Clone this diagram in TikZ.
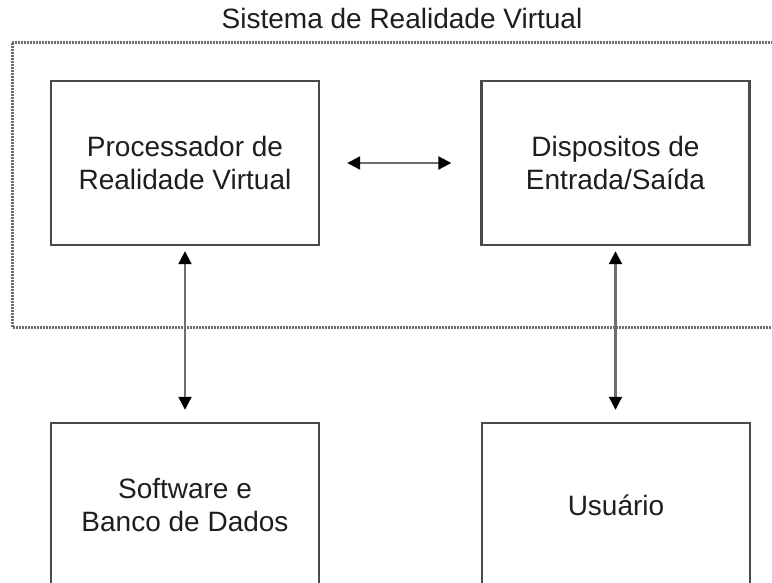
\documentclass[tikz,border=0pt]{standalone}
\usepackage{fontspec}
\setmainfont{Liberation Sans}
\usetikzlibrary{arrows.meta}
\definecolor{boxline}{HTML}{4A4A4A}
\definecolor{framegray}{HTML}{6E6E6E}
\definecolor{textgray}{HTML}{1E1E1E}
\tikzset{
  block/.style={draw=boxline, line width=2.4pt, minimum width=268pt, minimum height=164pt,
    align=center, text=textgray, font=\fontsize{28}{33}\selectfont, inner sep=0pt},
  tip/.style={},
  link/.style={draw=framegray, line width=2.2pt,
    {Triangle[length=13pt,width=13pt,black]}-{Triangle[length=13pt,width=13pt,black]}},
  frame/.style={draw=framegray, line width=3pt, dash pattern=on 2pt off 1pt},
}
\begin{document}
\begin{tikzpicture}[x=1pt,y=-1pt]
  \useasboundingbox (0,0) rectangle (772,583);
  \clip (0,0) rectangle (772,583);
  \fill[white] (0,0) rectangle (772,583);
  % outer dotted boundary of the system (open to the right)
  \draw[frame] (12,43) rectangle (800,327);
  \node[text=textgray, font=\fontsize{28}{33}\selectfont, anchor=base] (title) at (402,29) {Sistema de Realidade Virtual};
  % blocks
  \node[block] (proc) at (185,163) {Processador de\\Realidade Virtual};
  \node[block] (disp) at (615.5,163) {Dispositos de\\Entrada/Saída};
  \node[block] (soft) at (185,505) {Software e\\Banco de Dados};
  \node[block] (user) at (616,505) {Usuário};
  % connectors
  \draw[link, shorten <=27pt, shorten >=29pt] (proc.east) -- (disp.west);
  \draw[link, shorten <=5pt, shorten >=12pt] (proc.south) -- (soft.north);
  \draw[link, shorten <=5pt, shorten >=12pt] (disp.south) -- (disp.south |- user.north);
\end{tikzpicture}
\end{document}
